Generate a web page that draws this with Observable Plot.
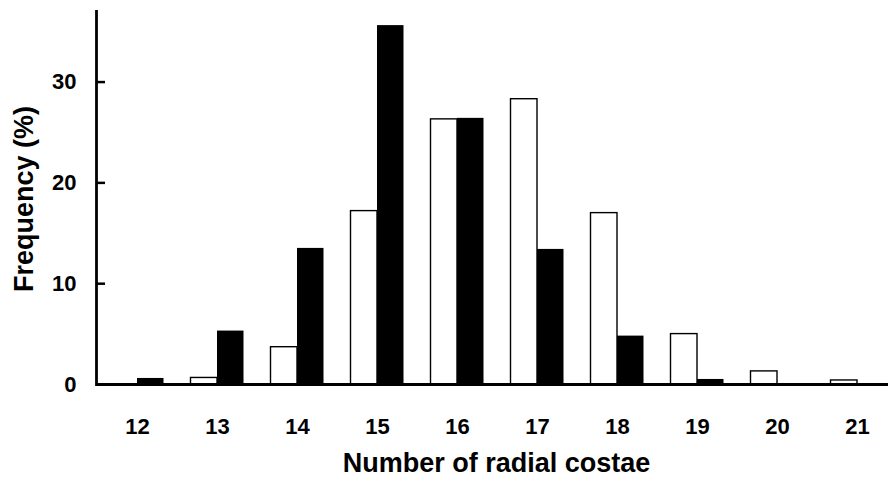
<!DOCTYPE html>
<html>
<head>
<meta charset="utf-8">
<script src="https://cdn.jsdelivr.net/npm/d3@7"></script>
<script src="https://cdn.jsdelivr.net/npm/@observablehq/plot@0.6"></script>
<style>
  html, body { margin: 0; padding: 0; background: #fff; }
  #chart svg { display: block; }
  #chart g[aria-label$="tick label"] { font-size: 22px; font-weight: bold; }
</style>
</head>
<body>
<div id="chart"></div>
<script>
const costae = [12, 13, 14, 15, 16, 17, 18, 19, 20, 21];
const whiteSeries = [0, 0.65, 3.7, 17.2, 26.3, 28.3, 17.0, 5.0, 1.3, 0.4];
const blackSeries = [0.6, 5.3, 13.5, 35.6, 26.4, 13.4, 4.8, 0.5, 0, 0];
const yTicks = [0, 10, 20, 30];
const xTitle = "Number of radial costae";
const yTitle = "Frequency (%)";

const whiteData = costae.map((c, i) => ({c, v: whiteSeries[i]}));
const blackData = costae.map((c, i) => ({c, v: blackSeries[i]}));

const font = "'Liberation Sans', Arial, sans-serif";

const chart = Plot.plot({
  width: 888,
  height: 477,
  marginLeft: 96,
  marginRight: 0,
  marginTop: 11,
  marginBottom: 93,
  style: {fontFamily: font, background: "#fff", color: "#000"},
  x: {type: "band", domain: costae, range: [96.5, 896.5], padding: 0},
  y: {domain: [0, 37]},
  marks: [
    Plot.barY(whiteData, {x: "c", y: "v", fill: "#fff", stroke: "#000", strokeWidth: 1.4, insetLeft: 13.5, insetRight: 40}),
    Plot.barY(blackData, {x: "c", y: "v", fill: "#000", insetLeft: 40, insetRight: 13.5}),
    Plot.axisX({tickSize: 0, tickPadding: 34, fontSize: 22, fontWeight: "bold", label: null}),
    Plot.axisY({ticks: yTicks, tickSize: 0, tickPadding: 20, fontSize: 22, fontWeight: "bold", label: null}),
    Plot.axisY({ticks: yTicks, tickSize: -9, strokeWidth: 2.5, tickFormat: () => "", label: null}),
    Plot.ruleY([0], {strokeWidth: 2.8}),
    Plot.frame({anchor: "left", strokeWidth: 2.8}),
    Plot.text([xTitle], {frameAnchor: "bottom", dy: 79, dx: 4, fontSize: 27, fontWeight: "bold", lineAnchor: "middle", textAnchor: "middle"}),
    Plot.text([yTitle], {frameAnchor: "left", dx: -72, dy: 1, rotate: -90, fontSize: 27, fontWeight: "bold", lineAnchor: "middle", textAnchor: "middle"})
  ]
});
document.getElementById("chart").appendChild(chart);
</script>
</body>
</html>
